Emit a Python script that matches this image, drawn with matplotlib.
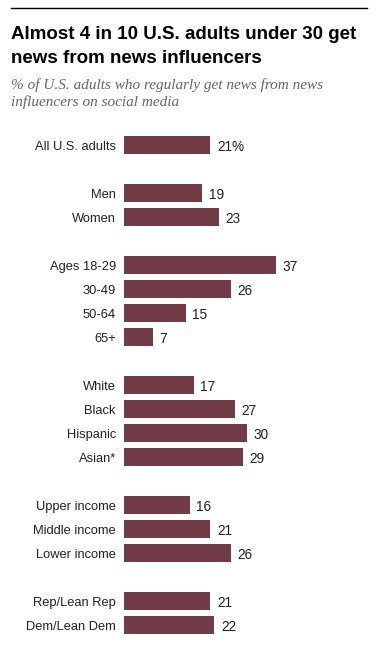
import matplotlib.pyplot as plt

# data
categorias = ["All U.S. adults",
              "Men", "Women",
              "Ages 18-29", "30-49", "50-64", "65+",
              "White", "Black", "Hispanic", "Asian*",
              "Upper income", "Middle income", "Lower income",
              "Rep/Lean Rep", "Dem/Lean Dem"]
valores = [21, 19, 23, 37, 26, 15, 7, 17, 27, 30, 29, 16, 21, 26, 21, 22]
grupos = [1, 2, 4, 4, 3, 2]  # cuantas barras hay en cada bloque

titulo = ["Almost 4 in 10 U.S. adults under 30 get", "news from news influencers"]
subtitulo = ["% of U.S. adults who regularly get news from news",
             "influencers on social media"]

# posiciones de fila (un hueco entre bloques)
filas = []
pos = 0
for g in grupos:
    for i in range(g):
        filas.append(pos)
        pos += 1
    pos += 1

W, H = 376, 645
fig = plt.figure(figsize=(W / 100, H / 100), dpi=100)

color_barra = "#723c47"
fuente = "Liberation Sans"

ax = fig.add_axes([124 / W, (645 - 637) / H, (W - 124) / W, (637 - 133) / H])
ax.barh(filas, valores, height=0.75, color=color_barra)
ax.set_xlim(0, (W - 124) / 4.11)
ax.set_ylim(20.5, -0.5)
ax.axis("off")

for y, v, cat in zip(filas, valores, categorias):
    txt = f"{v}%" if y == 0 else str(v)
    ax.text(v + 1.6, y + 0.07, txt, va="center", ha="left", fontsize=9.8,
            family=fuente, color="#222222")
    ax.text(-2.0, y + 0.07, cat, va="center", ha="right", fontsize=9.3,
            family=fuente, color="#222222")

# linea superior
fig.add_artist(plt.Line2D([11 / W, 367 / W], [1 - 8 / H, 1 - 8 / H],
                          color="black", linewidth=1.0))

# titulo y subtitulo, linea por linea
for linea, yb in zip(titulo, [39, 63]):
    fig.text(11 / W, 1 - yb / H, linea, ha="left", va="baseline",
             fontsize=13.5, fontweight="bold", family=fuente, color="black")
for linea, yb in zip(subtitulo, [89, 106]):
    fig.text(11 / W, 1 - yb / H, linea, ha="left", va="baseline",
             fontsize=11, style="italic", family="Liberation Serif",
             color="#666666")

fig.savefig("out.png", dpi=100, facecolor="white")
